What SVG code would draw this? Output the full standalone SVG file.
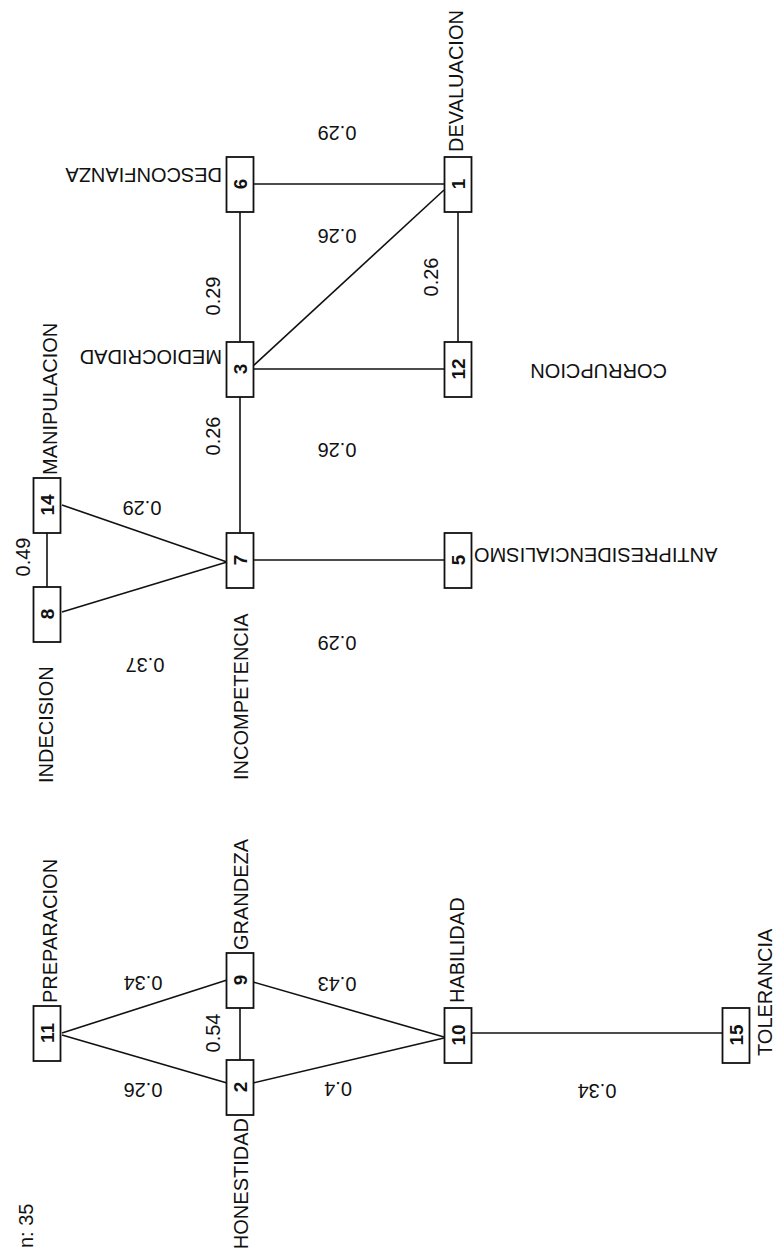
<svg xmlns="http://www.w3.org/2000/svg" width="776" height="1259" viewBox="0 0 776 1259">
<style>
.bg{fill:#fff}
.box{fill:#fff;stroke:#111;stroke-width:1.8}
.num{font-family:"Liberation Sans",Arial,sans-serif;font-size:19px;font-weight:bold;fill:#111;text-anchor:middle}
.lbl{font-family:"Liberation Sans",Arial,sans-serif;font-size:20px;fill:#111}
.ew{font-family:"Liberation Sans",Arial,sans-serif;font-size:20px;fill:#111;text-anchor:middle}
.edge{stroke:#111;stroke-width:1.6;fill:none}
</style>
<rect class="bg" width="776" height="1259"/>
<g id="connectors">
<line class="edge" x1="240" y1="212" x2="240" y2="342"/>
<line class="edge" x1="254" y1="184" x2="444" y2="184"/>
<line class="edge" x1="253" y1="366" x2="444" y2="190"/>
<line class="edge" x1="458" y1="212" x2="458" y2="342"/>
<line class="edge" x1="253" y1="369" x2="444" y2="369"/>
<line class="edge" x1="240" y1="397" x2="240" y2="533"/>
<line class="edge" x1="253" y1="560" x2="444" y2="560"/>
<line class="edge" x1="47" y1="532" x2="47" y2="587"/>
<line class="edge" x1="62" y1="505" x2="227" y2="562"/>
<line class="edge" x1="62" y1="612" x2="227" y2="562"/>
<line class="edge" x1="62" y1="1033" x2="227" y2="980"/>
<line class="edge" x1="62" y1="1035" x2="227" y2="1083"/>
<line class="edge" x1="240" y1="1007" x2="240" y2="1060"/>
<line class="edge" x1="253" y1="982" x2="444" y2="1037"/>
<line class="edge" x1="253" y1="1083" x2="444" y2="1038"/>
<line class="edge" x1="472" y1="1033" x2="722" y2="1033"/>
</g>
<g id="edge-labels">
<text class="ew" transform="translate(337,126) rotate(180)">0.29</text>
<text class="ew" transform="translate(337,229) rotate(180)">0.26</text>
<text class="ew" transform="translate(337,443) rotate(180)">0.26</text>
<text class="ew" transform="translate(337,636) rotate(180)">0.29</text>
<text class="ew" transform="translate(142,501) rotate(180)">0.29</text>
<text class="ew" transform="translate(145,658) rotate(180)">0.37</text>
<text class="ew" transform="translate(143,976) rotate(180)">0.34</text>
<text class="ew" transform="translate(143,1083) rotate(180)">0.26</text>
<text class="ew" transform="translate(337,977) rotate(180)">0.43</text>
<text class="ew" transform="translate(338,1082) rotate(180)">0.4</text>
<text class="ew" transform="translate(597,1084) rotate(180)">0.34</text>
<text class="ew" transform="translate(30,557) rotate(-90)">0.49</text>
<text class="ew" transform="translate(220,436) rotate(-90)">0.26</text>
<text class="ew" transform="translate(220,296) rotate(-90)">0.29</text>
<text class="ew" transform="translate(438,277) rotate(-90)">0.26</text>
<text class="ew" transform="translate(220,1033) rotate(-90)">0.54</text>
</g>
<g id="node-6"><rect class="box" x="226.5" y="157" width="27" height="55"/><text class="num" transform="translate(246.5,184) rotate(-90)">6</text><text class="lbl" transform="translate(222,168) rotate(180)">DESCONFIANZA</text></g>
<g id="node-1"><rect class="box" x="444.5" y="157" width="27" height="55"/><text class="num" transform="translate(464.5,184) rotate(-90)">1</text><text class="lbl" transform="translate(463,152) rotate(-90)">DEVALUACION</text></g>
<g id="node-3"><rect class="box" x="226.5" y="342" width="27" height="55"/><text class="num" transform="translate(246.5,369) rotate(-90)">3</text><text class="lbl" transform="translate(222,350) rotate(180)">MEDIOCRIDAD</text></g>
<g id="node-12"><rect class="box" x="444.5" y="342" width="27" height="55"/><text class="num" transform="translate(464.5,369) rotate(-90)">12</text></g>
<g id="label-corrupcion"><text class="lbl" transform="translate(667,364) rotate(180)">CORRUPCION</text></g>
<g id="node-14"><rect class="box" x="33.5" y="478" width="27" height="55"/><text class="num" transform="translate(53.5,505) rotate(-90)">14</text><text class="lbl" transform="translate(57,475) rotate(-90)">MANIPULACION</text></g>
<g id="node-7"><rect class="box" x="226.5" y="533" width="27" height="55"/><text class="num" transform="translate(246.5,560) rotate(-90)">7</text><text class="lbl" transform="translate(248,780) rotate(-90)">INCOMPETENCIA</text></g>
<g id="node-5"><rect class="box" x="444.5" y="533" width="27" height="55"/><text class="num" transform="translate(464.5,560) rotate(-90)">5</text><text class="lbl" text-anchor="end" transform="translate(474,548) rotate(180)">ANTIPRESIDENCIALISMO</text></g>
<g id="node-8"><rect class="box" x="33.5" y="587" width="27" height="55"/><text class="num" transform="translate(53.5,614) rotate(-90)">8</text><text class="lbl" transform="translate(53,783) rotate(-90)">INDECISION</text></g>
<g id="node-11"><rect class="box" x="33.5" y="1006" width="27" height="55"/><text class="num" transform="translate(53.5,1033) rotate(-90)">11</text><text class="lbl" transform="translate(57,1003) rotate(-90)">PREPARACION</text></g>
<g id="node-9"><rect class="box" x="226.5" y="953" width="27" height="55"/><text class="num" transform="translate(246.5,980) rotate(-90)">9</text><text class="lbl" transform="translate(248,950) rotate(-90)">GRANDEZA</text></g>
<g id="node-2"><rect class="box" x="226.5" y="1060" width="27" height="55"/><text class="num" transform="translate(246.5,1087) rotate(-90)">2</text><text class="lbl" text-anchor="end" transform="translate(248,1118) rotate(-90)">HONESTIDAD</text></g>
<g id="node-10"><rect class="box" x="444.5" y="1008" width="27" height="55"/><text class="num" transform="translate(464.5,1035) rotate(-90)">10</text><text class="lbl" transform="translate(464,1003) rotate(-90)">HABILIDAD</text></g>
<g id="node-15"><rect class="box" x="722.5" y="1008" width="27" height="55"/><text class="num" transform="translate(742.5,1035) rotate(-90)">15</text><text class="lbl" transform="translate(772,1056) rotate(-90)">TOLERANCIA</text></g>
<g id="caption"><text class="lbl" transform="translate(33,1248) rotate(-90)">n: 35</text></g>
</svg>
